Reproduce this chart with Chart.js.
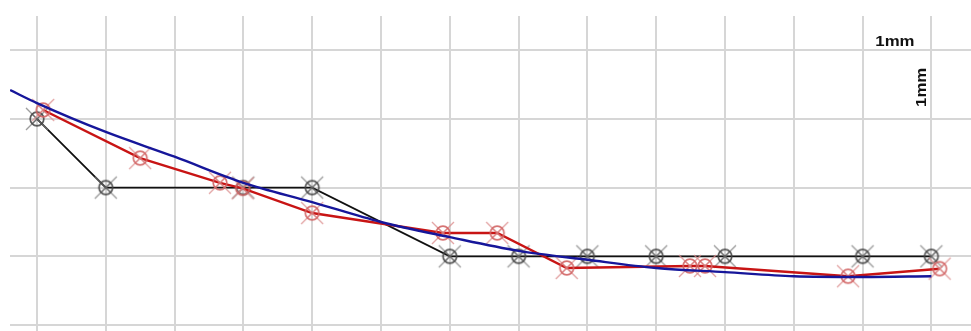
<!DOCTYPE html>
<html>
<head>
<meta charset="utf-8">
<script src="https://cdn.jsdelivr.net/npm/chart.js@4/dist/chart.umd.min.js"></script>
<style>
html,body{margin:0;padding:0;background:#fff;}
#wrap{width:971px;height:331px;position:relative;}
</style>
</head>
<body>
<div id="wrap"><canvas id="c" width="971" height="331"></canvas></div>
<script>
// Data (mm units)
const blackX = [0, 1, 3, 4, 6, 7, 8, 9, 10, 12, 13];
const blackY = [3, 2, 2, 2, 1, 1, 1, 1, 1, 1, 1];
const redX = [0.09, 1.50, 2.66, 2.99, 4.00, 5.90, 6.69, 7.70, 9.49, 9.71, 11.79, 13.12];
const redY = [3.13, 2.43, 2.07, 1.99, 1.63, 1.34, 1.34, 0.83, 0.86, 0.86, 0.71, 0.82];
const blueX = [-0.39, 0, 1, 2, 3, 4, 5, 6, 7, 8, 9, 10, 11, 12, 13];
const blueY = [3.42, 3.23, 2.81, 2.45, 2.07, 1.79, 1.50, 1.28, 1.08, 0.95, 0.83, 0.77, 0.71, 0.70, 0.71];
const scaleLabels = ["1mm", "1mm"];

function toPts(xs, ys){ return xs.map((x,i)=>({x:x, y:ys[i]})); }

function makeMarker(xCol, cCol, inCol){
  const s = 28, c = document.createElement('canvas');
  c.width = s; c.height = s;
  const g = c.getContext('2d');
  const m = s/2;
  g.strokeStyle = xCol; g.lineWidth = 1.3;
  g.beginPath();
  g.moveTo(m-11, m-11); g.lineTo(m+11, m+11);
  g.moveTo(m+11, m-11); g.lineTo(m-11, m+11);
  g.stroke();
  g.strokeStyle = inCol; g.lineWidth = 1.2;
  g.beginPath();
  g.moveTo(m-4.5, m-4.5); g.lineTo(m+4.5, m+4.5);
  g.moveTo(m+4.5, m-4.5); g.lineTo(m-4.5, m+4.5);
  g.stroke();
  g.strokeStyle = cCol; g.lineWidth = 1.7;
  g.beginPath(); g.arc(m, m, 6.8, 0, Math.PI*2); g.stroke();
  return c;
}
const blackMarker = makeMarker('rgba(130,130,130,0.8)', 'rgba(70,70,70,0.9)', 'rgba(90,90,90,0.8)');
const redMarker = makeMarker('rgba(220,140,140,0.8)', 'rgba(210,100,100,0.9)', 'rgba(215,120,120,0.8)');

const textPlugin = {
  id: 'mmText',
  afterDatasetsDraw(chart){
    const ctx = chart.ctx, xs = chart.scales.x, ys = chart.scales.y;
    ctx.save();
    ctx.fillStyle = '#111';
    ctx.font = 'bold 14px "Liberation Sans", Arial, sans-serif';
    ctx.textAlign = 'center'; ctx.textBaseline = 'middle';
    ctx.save();
    ctx.translate(xs.getPixelForValue(12.47), ys.getPixelForValue(4.12));
    ctx.scale(1.2, 1);
    ctx.fillText(scaleLabels[0], 0, 0);
    ctx.restore();
    ctx.save();
    ctx.translate(xs.getPixelForValue(12.86), ys.getPixelForValue(3.46));
    ctx.rotate(-Math.PI/2);
    ctx.scale(1.2, 1);
    ctx.fillText(scaleLabels[1], 0, 0);
    ctx.restore();
    ctx.restore();
  }
};

new Chart(document.getElementById('c'), {
  type: 'line',
  data: {
    datasets: [
      { label: 'measured', data: toPts(blackX, blackY), borderColor: '#111', borderWidth: 1.8,
        pointStyle: blackMarker, pointRadius: 11, tension: 0, order: 3 },
      { label: 'adjusted', data: toPts(redX, redY), borderColor: '#c81414', borderWidth: 2.4,
        pointStyle: redMarker, pointRadius: 11, tension: 0, order: 2 },
      { label: 'fit', data: toPts(blueX, blueY), borderColor: '#16169a', borderWidth: 2.4,
        pointRadius: 0, tension: 0.4, cubicInterpolationMode: 'monotone', order: 1 }
    ]
  },
  options: {
    responsive: false, animation: false, devicePixelRatio: 1,
    layout: { autoPadding: false, padding: { left: 10, top: 16, right: 0, bottom: 0 } },
    plugins: { legend: { display: false }, tooltip: { enabled: false } },
    scales: {
      x: { type: 'linear', min: -0.392, max: 13.576,
        ticks: { display: false, stepSize: 1, includeBounds: false, padding: 0 },
        grid: { color: '#d6d6d6', lineWidth: 2, drawTicks: false, tickLength: 0 },
        border: { display: false } },
      y: { type: 'linear', min: -0.087, max: 4.498,
        ticks: { display: false, stepSize: 1, includeBounds: false, padding: 0 },
        grid: { color: '#d6d6d6', lineWidth: 2, drawTicks: false, tickLength: 0 },
        border: { display: false } }
    }
  },
  plugins: [textPlugin]
});
</script>
</body>
</html>
